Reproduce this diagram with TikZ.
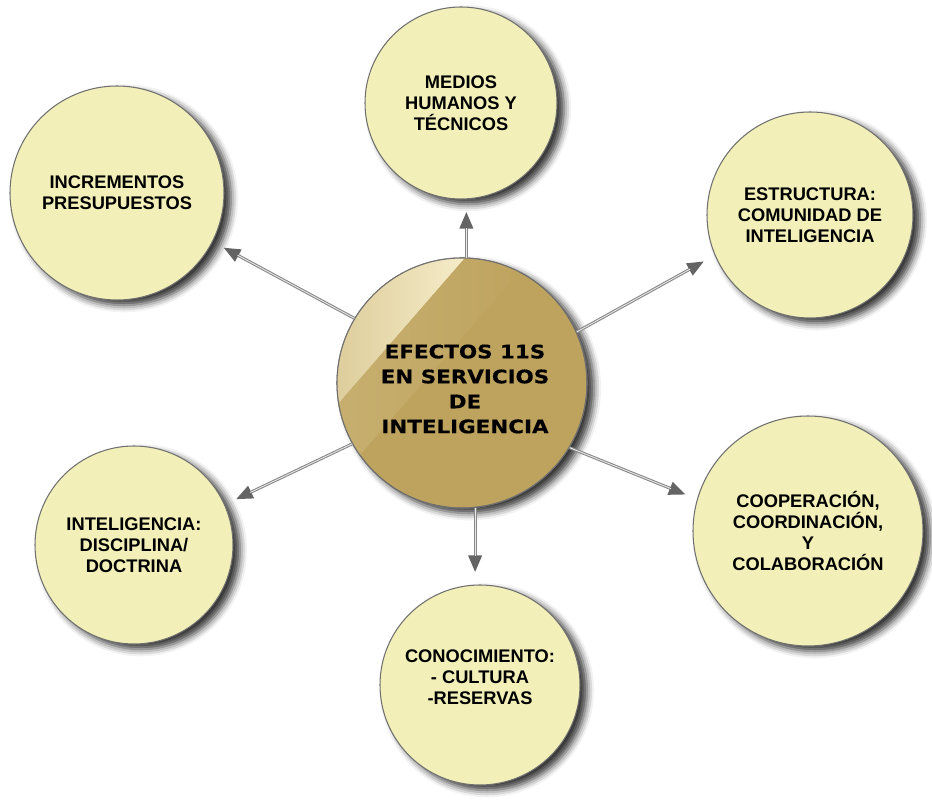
\documentclass[tikz,border=0pt]{standalone}
\usepackage{fontspec}
\setmainfont{Liberation Sans}
\newfontfamily\hubfont[FakeStretch=1.15,FakeBold=0.4]{DejaVu Sans}
\usetikzlibrary{arrows.meta,shadows.blur}
\definecolor{paleyellow}{RGB}{242,240,184}
\definecolor{goldfill}{RGB}{190,163,94}
\definecolor{cream}{RGB}{251,244,212}
\definecolor{rimgray}{RGB}{112,112,112}
\definecolor{linkgray}{RGB}{135,135,135}
\definecolor{tipgray}{RGB}{100,100,100}

\begin{document}
\begin{tikzpicture}[
  idea/.style={circle, draw=rimgray, line width=0.6pt, fill=paleyellow, inner sep=0pt,
    align=center, font=\bfseries\fontsize{10.4}{12}\selectfont,
    blur shadow={shadow xshift=4pt, shadow yshift=-3pt, shadow blur radius=4pt, shadow opacity=80}},
  hub/.style={circle, draw=rimgray, line width=0.6pt, fill=goldfill, inner sep=0pt,
    minimum size=5cm,
    blur shadow={shadow xshift=4pt, shadow yshift=-3pt, shadow blur radius=4pt, shadow opacity=80}},
  hubtext/.style={align=center, font=\hubfont\bfseries\fontsize{10.6}{14.2}\selectfont},
  link/.style={draw=linkgray, line width=1.7pt, shorten >=7pt,
    -{Triangle[length=9.5pt,width=7.5pt,fill=tipgray,color=tipgray]},
    postaction={draw=gray!18, line width=0.5pt, -, shorten >=16pt}}]
  \useasboundingbox (0,0) rectangle (18.64,16.04);
  \node[hub] (efectos) at (9.24,8.38) {};
  \begin{scope}
    \clip (9.24,8.38) circle (2.5cm);
    \begin{scope}[shift={(9.30,10.88)}, rotate=-41]
      \shade[left color=goldfill!88!cream, right color=cream] (-0.95,-7) rectangle (0,1);
      \shade[left color=goldfill!78!cream, right color=goldfill] (0,-7) rectangle (1.0,1);
    \end{scope}
  \end{scope}
  \draw[rimgray, line width=0.6pt] (9.24,8.38) circle (2.5cm);
  \node[hubtext] at (9.30,8.26) {EFECTOS 11S\\EN SERVICIOS\\DE\\INTELIGENCIA};
  \node[idea, minimum size=3.84cm] (medios) at (9.22,13.98) {MEDIOS\\HUMANOS Y\\TÉCNICOS};
  \node[idea, minimum size=4.28cm] (presupuestos) at (2.34,12.18) {INCREMENTOS\\PRESUPUESTOS};
  \node[idea, minimum size=4.12cm] (estructura) at (16.2,11.74) {ESTRUCTURA:\\COMUNIDAD DE\\INTELIGENCIA};
  \node[idea, minimum size=4.6cm] (cooperacion) at (16.16,5.42) {COOPERACIÓN,\\COORDINACIÓN,\\Y\\COLABORACIÓN};
  \node[idea, minimum size=4.0cm, text depth=0.32cm] (conocimiento) at (9.6,2.34) {CONOCIMIENTO:\\- CULTURA\\-RESERVAS};
  \node[idea, minimum size=3.96cm] (doctrina) at (2.68,5.14) {INTELIGENCIA:\\DISCIPLINA/\\DOCTRINA};
  \draw[link] (efectos.88) -- (efectos.88 |- medios.south);
  \draw[link] (efectos.149) -- (presupuestos.-27);
  \draw[link] (efectos.24) -- (estructura.203);
  \draw[link] (efectos.-31) -- (cooperacion.164);
  \draw[link] (efectos.-84) -- (efectos.-84 |- conocimiento.north);
  \draw[link] (efectos.-151) -- (doctrina.24);
\end{tikzpicture}
\end{document}
